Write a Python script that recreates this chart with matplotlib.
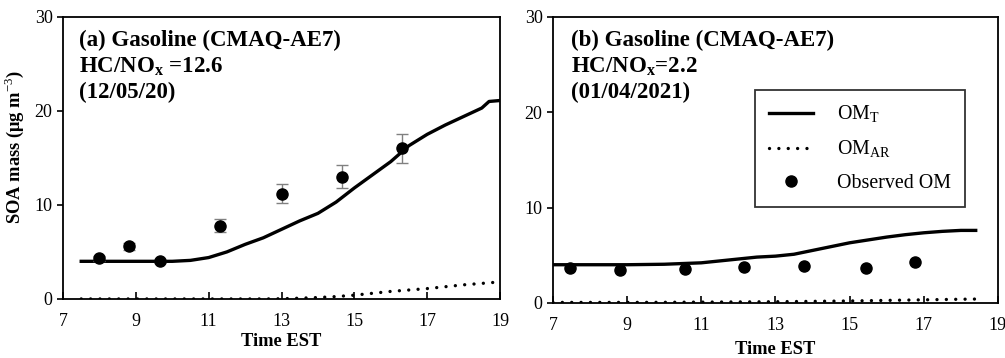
import matplotlib.pyplot as plt
import numpy as np

plt.rcParams['font.family'] = ['Liberation Serif', 'DejaVu Serif']
plt.rcParams['mathtext.fontset'] = 'custom'
plt.rcParams['mathtext.rm'] = 'Liberation Serif'
plt.rcParams['mathtext.bf'] = 'Liberation Serif:bold'

# (a) 12/05/20
a_time = [7.5, 8.0, 9.0, 10.0, 10.5, 11.0, 11.5, 12.0, 12.5, 13.0, 13.5, 14.0, 14.5,
          15.0, 15.5, 16.0, 16.5, 17.0, 17.5, 18.0, 18.5, 18.7, 19.0]
a_omt = [4.0, 4.0, 4.0, 4.0, 4.1, 4.4, 5.0, 5.8, 6.5, 7.4, 8.3, 9.1, 10.3,
         11.8, 13.2, 14.6, 16.3, 17.5, 18.5, 19.4, 20.3, 21.0, 21.1]
a_omar = [0.0, 0.0, 0.0, 0.0, 0.0, 0.0, 0.0, 0.0, 0.0, 0.02, 0.08, 0.15, 0.25,
          0.4, 0.6, 0.8, 0.95, 1.1, 1.3, 1.5, 1.65, 1.72, 1.8]
a_obs_t = [8.0, 8.8, 9.65, 11.3, 13.0, 14.65, 16.3]
a_obs = [4.3, 5.6, 4.0, 7.8, 11.2, 13.0, 16.0]
a_err = [0.3, 0.4, 0.2, 0.7, 1.0, 1.2, 1.5]

# (b) 01/04/2021
b_time = [7.0, 8.0, 9.0, 10.0, 11.0, 12.0, 12.5, 13.0, 13.5, 14.0, 14.5,
          15.0, 15.5, 16.0, 16.5, 17.0, 17.5, 18.0, 18.4]
b_omt = [4.0, 4.0, 4.0, 4.05, 4.2, 4.6, 4.8, 4.9, 5.1, 5.5, 5.9,
         6.3, 6.6, 6.9, 7.15, 7.35, 7.5, 7.6, 7.6]
b_omar = [0.05, 0.05, 0.05, 0.06, 0.08, 0.1, 0.11, 0.12, 0.14, 0.16, 0.18,
          0.2, 0.23, 0.26, 0.29, 0.32, 0.35, 0.38, 0.4]
b_obs_t = [7.46, 8.81, 10.56, 12.15, 13.77, 15.44, 16.76]
b_obs = [3.7, 3.45, 3.6, 3.8, 3.9, 3.7, 4.3]

fig = plt.figure(figsize=(10.05, 3.58), dpi=100)
ax1 = fig.add_axes([0.0627, 0.165, 0.4348, 0.788])
ax2 = fig.add_axes([0.5502, 0.154, 0.4428, 0.799])

dots = (0, (0.01, 2.8))

ax1.plot(a_time, a_omt, color='black', lw=2.4, label='OM$_\\mathrm{T}$')
ax1.plot(a_time, a_omar, color='black', lw=2.4, ls=dots, dash_capstyle='round',
         label='OM$_\\mathrm{AR}$')
ax1.errorbar(a_obs_t, a_obs, yerr=a_err, fmt='o', color='black', ms=8,
             ecolor='gray', elinewidth=1, capsize=4, label='Observed OM')

ax2.plot(b_time, b_omt, color='black', lw=2.4, label='OM$_\\mathrm{T}$')
ax2.plot(b_time, b_omar, color='black', lw=2.4, ls=dots, dash_capstyle='round',
         label='OM$_\\mathrm{AR}$')
ax2.plot(b_obs_t, b_obs, 'o', color='black', ms=8, label='Observed OM')

for ax in (ax1, ax2):
    ax.set_xlim(7, 19)
    ax.set_ylim(0, 30)
    ax.set_xticks([7, 9, 11, 13, 15, 17, 19])
    ax.set_yticks([0, 10, 20, 30])
    ax.tick_params(axis='x', direction='in', length=5, labelsize=13, pad=10, width=1.2)
    ax.tick_params(axis='y', direction='out', length=4, labelsize=13, width=1.2)
    for s in ax.spines.values():
        s.set_linewidth(1.3)
    ax.set_xlabel('Time EST', fontsize=13.3, fontweight='bold', labelpad=2)
ax2.xaxis.labelpad = 5

ax1.set_ylabel('SOA mass (μg m$^{-3}$)', fontsize=13.3, fontweight='bold')
ax1.yaxis.set_label_coords(-0.085, 0.54)

ax1.text(0.037, 0.955, '(a) Gasoline (CMAQ-AE7)\nHC/NO$_\\mathbf{x}$ =12.6\n(12/05/20)',
         transform=ax1.transAxes, va='top', ha='left', fontsize=16.5,
         fontweight='bold', linespacing=1.25)
ax2.text(0.04, 0.955, '(b) Gasoline (CMAQ-AE7)\nHC/NO$_\\mathbf{x}$=2.2\n(01/04/2021)',
         transform=ax2.transAxes, va='top', ha='left', fontsize=16.5,
         fontweight='bold', linespacing=1.25)

leg = ax2.legend(loc='upper left', bbox_to_anchor=(0.454, 0.745), fontsize=14.4,
                 frameon=True, fancybox=False, edgecolor='black', borderaxespad=0,
                 handlelength=2.2, borderpad=0.7, labelspacing=0.7, handletextpad=1.2)
leg.get_frame().set_linewidth(1.3)

fig.savefig('out.png', dpi=100)
